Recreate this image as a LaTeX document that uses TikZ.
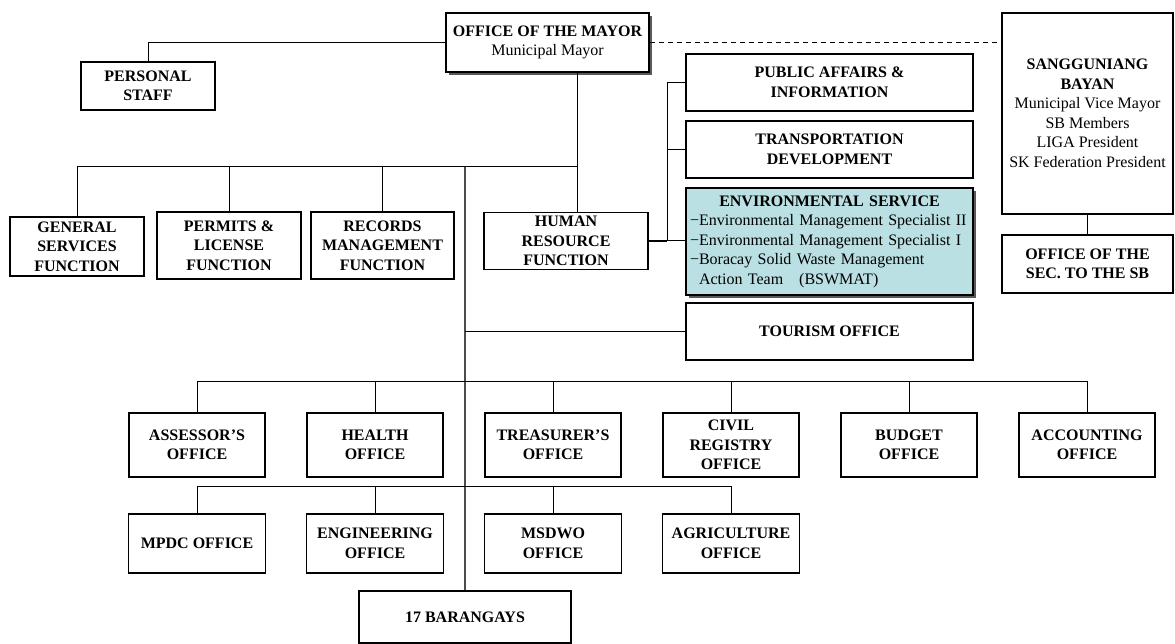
\documentclass[tikz,border=0pt]{standalone}
\usepackage{fontspec}
\setmainfont{Liberation Serif}
\usetikzlibrary{shadows}
\definecolor{envfill}{RGB}{186,224,227}
\newcommand{\orgfs}{\fontsize{16}{19.5}\selectfont}
\tikzset{
  box/.style={draw, line width=1.2pt, fill=white, inner sep=2pt, align=center, font=\orgfs\bfseries},
  shad/.style={drop shadow={shadow xshift=3pt, shadow yshift=-3pt, fill=black!65, opacity=1}},
  conn/.style={line width=1pt},
  trunk/.style={line width=1.3pt, draw=black!70},
}
\begin{document}
\begin{tikzpicture}[x=1pt,y=-1pt]
\useasboundingbox (0,0) rectangle (1175,644);

% top
\node[box, shad, minimum width=203pt, minimum height=59pt] (mayor) at (547.5,42.5)
  {OFFICE OF THE MAYOR\\ \mdseries Municipal Mayor};
\node[box, minimum width=134pt, minimum height=48pt] (personal) at (148,86) {PERSONAL\\STAFF};
\node[box, minimum width=171pt, minimum height=201pt] (SB) at (1087.5,113.5)
  {SANGGUNIANG\\BAYAN\\ \mdseries Municipal Vice Mayor\\ \mdseries SB Members\\ \mdseries LIGA President\\ \mdseries SK Federation President};
\node[box, minimum width=171pt, minimum height=58pt] (sec) at (1087.5,264) {OFFICE OF THE\\SEC. TO THE SB};

% right column
\node[box, minimum width=287pt, minimum height=57pt] (pub) at (829.5,82.5) {PUBLIC AFFAIRS \&\\INFORMATION};
\node[box, minimum width=287pt, minimum height=57pt] (trans) at (829.5,149.5) {TRANSPORTATION\\DEVELOPMENT};
\node[box, shad, fill=envfill, minimum width=287pt, minimum height=107pt, text width=279pt, inner xsep=4pt, inner ysep=0pt, align=left, font=\orgfs] (env) at (829.5,241.5)
  {\makebox[279pt]{\bfseries ENVIRONMENTAL SERVICE}\\
   −Environmental Management Specialist II\\
   −Environmental Management Specialist I\\
   −Boracay Solid Waste Management\\
   \phantom{−}Action Team\ \ \ (BSWMAT)};
\node[box, minimum width=287pt, minimum height=57pt] (tour) at (829.5,331.5) {TOURISM OFFICE};

% function row
\node[box, minimum width=134pt, minimum height=59pt] (gs) at (77,246.5) {GENERAL\\SERVICES\\FUNCTION};
\node[box, minimum width=144pt, minimum height=67pt] (perm) at (229,245.5) {PERMITS \&\\LICENSE\\FUNCTION};
\node[box, minimum width=143pt, minimum height=67pt] (rec) at (382.5,245.5) {RECORDS\\MANAGEMENT\\FUNCTION};
\node[box, minimum width=164pt, minimum height=57pt] (hr) at (566,241) {HUMAN\\RESOURCE\\FUNCTION};

% row 2
\node[box, minimum width=136pt, minimum height=64pt] (a1) at (197,445) {ASSESSOR'S\\OFFICE};
\node[box, minimum width=136pt, minimum height=64pt] (a2) at (375,445) {HEALTH\\OFFICE};
\node[box, minimum width=136pt, minimum height=64pt] (a3) at (553,445) {TREASURER'S\\OFFICE};
\node[box, minimum width=136pt, minimum height=64pt] (a4) at (731,445) {CIVIL\\REGISTRY\\OFFICE};
\node[box, minimum width=136pt, minimum height=64pt] (a5) at (909,445) {BUDGET\\OFFICE};
\node[box, minimum width=136pt, minimum height=64pt] (a6) at (1087,445) {ACCOUNTING\\OFFICE};

% row 3
\node[box, minimum width=137pt, minimum height=59pt] (b1) at (197,543.5) {MPDC OFFICE};
\node[box, minimum width=137pt, minimum height=59pt] (b2) at (375,543.5) {ENGINEERING\\OFFICE};
\node[box, minimum width=137pt, minimum height=59pt] (b3) at (553,543.5) {MSDWO\\OFFICE};
\node[box, minimum width=137pt, minimum height=59pt] (b4) at (731,543.5) {AGRICULTURE\\OFFICE};

\node[box, minimum width=212pt, minimum height=52pt] (brgy) at (465,617) {17 BARANGAYS};

% connectors
\coordinate (m1) at (577,167);
\coordinate (t0) at (465,167);
\coordinate (br) at (667,0);
\coordinate (r2) at (0,381);
\coordinate (r3) at (0,486);

\draw[conn] (mayor.west) -| (personal.north);
\draw[conn, dash pattern=on 5pt off 4pt] (mayor.east) -- (mayor.east -| SB.west);
\draw[conn] (SB.south) -- (sec.north);

\draw[conn] (mayor.south -| m1) -- (hr.north -| m1);
\draw[conn] (m1) -| (gs.north);
\draw[conn] (perm.north |- m1) -- (perm.north);
\draw[conn] (rec.north |- m1) -- (rec.north);

\draw[trunk] (t0) -- (brgy.north);
\draw[conn] (tour.west -| t0) -- (tour.west);

\draw[conn] (pub.west -| br) -- (hr.east -| br);
\draw[conn] (pub.west -| br) -- (pub.west);
\draw[conn] (trans.west -| br) -- (trans.west);
\draw[line width=2pt] (hr.east) -- (hr.east -| br);
\draw[conn] (hr.east -| br) -- (hr.east -| env.west);

\draw[conn] (a1.north |- r2) -- (a6.north |- r2);
\foreach \n in {a1,a2,a3,a4,a5,a6} \draw[conn] (\n.north |- r2) -- (\n.north);
\draw[conn] (b1.north |- r3) -- (b4.north |- r3);
\foreach \n in {b1,b2,b3,b4} \draw[conn] (\n.north |- r3) -- (\n.north);
\end{tikzpicture}
\end{document}
